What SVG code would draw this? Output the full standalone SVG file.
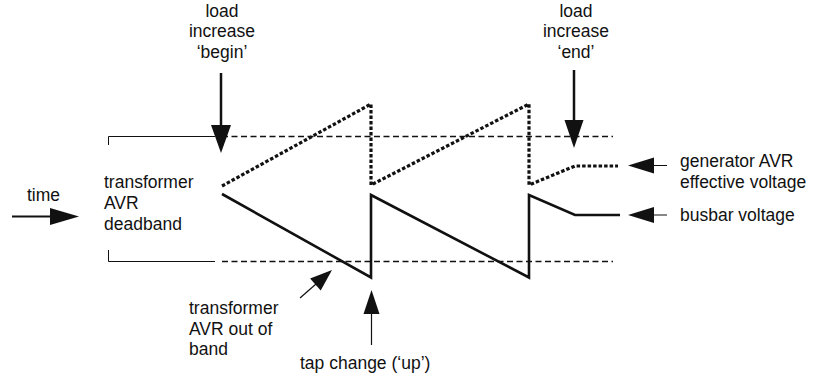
<svg xmlns="http://www.w3.org/2000/svg" width="814" height="379" viewBox="0 0 814 379">
<style>
text{font-family:"Liberation Sans",Arial,sans-serif;font-size:17.5px;fill:#111}
.mid{text-anchor:middle}
.band{fill:none;stroke:#111;stroke-width:1.6;stroke-dasharray:6 3.5}
.brk{fill:none;stroke:#111;stroke-width:1}
.gen{fill:none;stroke:#111;stroke-width:3.2;stroke-dasharray:3.5 2;stroke-linejoin:miter}
.bus{fill:none;stroke:#111;stroke-width:2.6;stroke-linejoin:miter}
.shaft{stroke:#111;fill:none}
.head{fill:#111;stroke:none}
</style>
<rect width="814" height="379" fill="#ffffff"/>
<g id="deadband">
<path class="brk" d="M108.5 145V136.5H215"/>
<path class="band" d="M222 136.5H613"/>
<path class="brk" d="M108.5 250V261.5H215"/>
<path class="band" d="M222 261.5H613"/>
<text x="104" y="188">transformer</text>
<text x="104" y="209">AVR</text>
<text x="104" y="229.5">deadband</text>
</g>
<g id="generator-voltage">
<path class="gen" d="M222 186L371 104V185L529 104V185L575 166H618"/>
<text x="680" y="167">generator AVR</text>
<text x="680" y="187.5">effective voltage</text>
</g>
<g id="busbar-voltage">
<path class="bus" d="M222 194L371 277.5V195L529 277.5V195L575 215H620"/>
<text x="680" y="220.5">busbar voltage</text>
</g>
<g id="time">
<text x="27" y="200.5">time</text>
</g>
<g id="load-begin">
<text class="mid" x="222" y="16.5">load</text>
<text class="mid" x="222" y="37">increase</text>
<text class="mid" x="222" y="57.5">‘begin’</text>
</g>
<g id="load-end">
<text class="mid" x="576" y="16.5">load</text>
<text class="mid" x="576" y="37">increase</text>
<text class="mid" x="576" y="57.5">‘end’</text>
</g>
<g id="out-of-band">
<text x="189" y="313.5">transformer</text>
<text x="189" y="334.5">AVR out of</text>
<text x="189" y="354.5">band</text>
</g>
<g id="tap-change">
<text x="300" y="369">tap change (‘up’)</text>
</g>
<g id="connectors">
<line class="shaft" x1="12" y1="216.5" x2="52" y2="216.5" stroke-width="2"/>
<polygon class="head" points="50,208 79,216.5 50,225"/>
<line class="shaft" x1="221" y1="73" x2="221" y2="127" stroke-width="2.5"/>
<polygon class="head" points="211,125 231,125 221,153"/>
<line class="shaft" x1="574" y1="70" x2="574" y2="122" stroke-width="2.5"/>
<polygon class="head" points="564.5,120 583.5,120 574,148"/>
<line class="shaft" x1="652" y1="165.5" x2="667" y2="165.5" stroke-width="1" stroke="#555"/>
<polygon class="head" points="628,165.5 654,157.5 654,173.5"/>
<line class="shaft" x1="652" y1="215" x2="667" y2="215" stroke-width="1" stroke="#555"/>
<polygon class="head" points="628,215 654,207 654,223"/>
<line class="shaft" x1="300" y1="298" x2="316" y2="284" stroke-width="1.2"/>
<polygon class="head" points="332,270 320.7,290.5 310.1,278.5"/>
<line class="shaft" x1="371.5" y1="312" x2="371.5" y2="345" stroke-width="1.2"/>
<polygon class="head" points="371.5,290 379.5,314 363.5,314"/>
</g>
</svg>
